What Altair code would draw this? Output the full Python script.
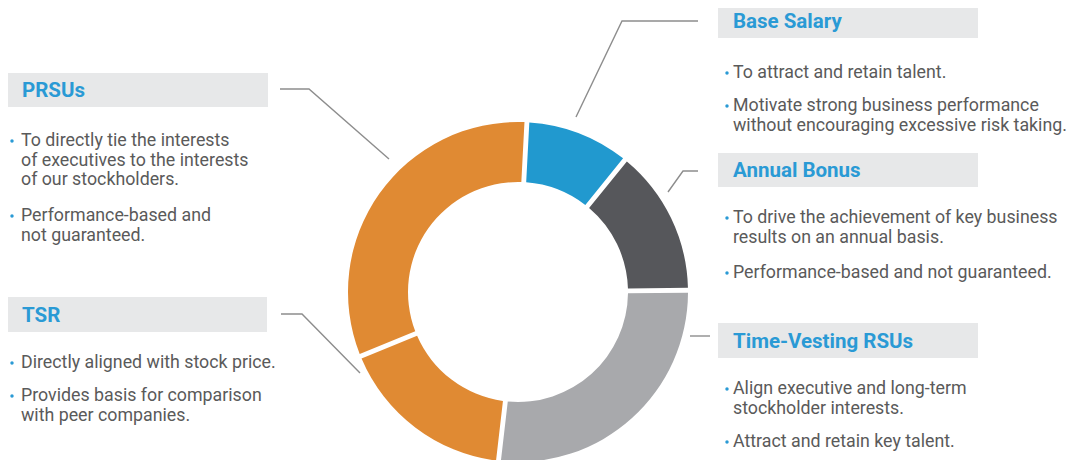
import math
import altair as alt
import pandas as pd

# ---- data ----
categories = ["Base Salary", "Annual Bonus", "Time-Vesting RSUs", "TSR", "PRSUs"]
shares = [10, 14, 27, 17, 32]
slice_colors = ["#2199cf", "#56575b", "#a8a9ac", "#e08a33", "#e08a33"]

titles = ["Base Salary", "Annual Bonus", "Time-Vesting RSUs", "PRSUs", "TSR"]
bullet_lines = [
    ["To attract and retain talent.", "Motivate strong business performance",
     "without encouraging excessive risk taking."],
    ["To drive the achievement of key business", "results on an annual basis.",
     "Performance-based and not guaranteed."],
    ["Align executive and long-term", "stockholder interests.",
     "Attract and retain key talent."],
    ["To directly tie the interests", "of executives to the interests",
     "of our stockholders.", "Performance-based and", "not guaranteed."],
    ["Directly aligned with stock price.", "Provides basis for comparison",
     "with peer companies."],
]
bullet_flags = [
    [1, 1, 0],
    [1, 0, 1],
    [1, 0, 1],
    [1, 0, 0, 1, 0],
    [1, 1, 0],
]

# ---- layout (page pixels) ----
OFF = 8
W, H = 1058, 452
box_x = [(718, 978), (718, 978), (718, 978), (8, 268), (7, 267)]
box_y = [(4, 38), (153, 187), (323, 358), (73, 107), (297, 332)]
title_x = [733, 733, 733, 22, 22]
text_x = [733, 733, 733, 21, 21]
dot_x = [727, 727, 727, 12, 12]
line_y = [
    [73, 106, 126],
    [218, 238, 273],
    [389, 409, 442],
    [141, 161, 180, 216, 236],
    [363, 396, 416],
]
leaders = [
    [(576, 117), (622, 21), (698, 21)],
    [(668, 192), (683, 171), (698, 171)],
    [(690, 336), (710, 336)],
    [(280, 89), (309, 89), (389, 159)],
    [(281, 314), (302, 314), (360, 373)],
]
cx, cy = 518, 292
start = math.radians(3)

xs = alt.Scale(domain=[0, W], range=[0, W])
ys = alt.Scale(domain=[0, H], range=[0, H])

# donut
donut_df = pd.DataFrame({"cat": categories, "share": shares, "ord": list(range(len(categories)))})
donut = alt.Chart(donut_df).mark_arc(
    outerRadius=170, innerRadius=110, padAngle=0.024
).encode(
    theta=alt.Theta("share:Q", stack=True,
                    scale=alt.Scale(range=[start, start + 2 * math.pi])),
    order=alt.Order("ord:Q"),
    color=alt.Color("cat:N", scale=alt.Scale(domain=categories, range=slice_colors), legend=None),
    x=alt.value(cx - OFF),
    y=alt.value(cy - OFF),
)

# boxes
box_df = pd.DataFrame({
    "x": [b[0] - OFF for b in box_x], "x2": [b[1] - OFF for b in box_x],
    "y": [b[0] - OFF for b in box_y], "y2": [b[1] - OFF for b in box_y],
})
boxes = alt.Chart(box_df).mark_rect(color="#e7e8e9").encode(
    x=alt.X("x:Q", scale=xs, axis=None), x2="x2:Q",
    y=alt.Y("y:Q", scale=ys, axis=None), y2="y2:Q",
)

title_df = pd.DataFrame({
    "t": titles,
    "x": [v - OFF for v in title_x],
    "y": [(b[0] + b[1]) / 2 + 1 - OFF for b in box_y],
})
title_marks = alt.Chart(title_df).mark_text(
    align="left", baseline="middle", font="Roboto", fontSize=20.5, fontWeight="bold", color="#2a9ad5"
).encode(x=alt.X("x:Q", scale=xs, axis=None), y=alt.Y("y:Q", scale=ys, axis=None), text="t:N")

rows = []
dots = []
for i, lines in enumerate(bullet_lines):
    for j, ln in enumerate(lines):
        rows.append({"t": ln, "x": text_x[i] - OFF, "y": line_y[i][j] - OFF})
        if bullet_flags[i][j]:
            dots.append({"x": dot_x[i] - OFF, "y": line_y[i][j] - OFF})
text_df = pd.DataFrame(rows)
dot_df = pd.DataFrame(dots)

body = alt.Chart(text_df).mark_text(
    align="left", baseline="middle", font="Roboto", fontSize=17.8, color="#5a5a5a"
).encode(x=alt.X("x:Q", scale=xs, axis=None), y=alt.Y("y:Q", scale=ys, axis=None), text="t:N")

bul = alt.Chart(dot_df).mark_circle(size=12, color="#2a9ad5", opacity=1).encode(
    x=alt.X("x:Q", scale=xs, axis=None), y=alt.Y("y:Q", scale=ys, axis=None)
)

lrows = []
for i, pts in enumerate(leaders):
    for k, (px, py) in enumerate(pts):
        lrows.append({"id": i, "k": k, "x": px - OFF, "y": py - OFF})
lead_df = pd.DataFrame(lrows)
lead = alt.Chart(lead_df).mark_line(color="#8d8d8d", strokeWidth=1.4).encode(
    x=alt.X("x:Q", scale=xs, axis=None), y=alt.Y("y:Q", scale=ys, axis=None),
    detail="id:N", order="k:Q",
)

chart = alt.layer(boxes, lead, donut, title_marks, body, bul).properties(
    width=W, height=H, padding=0, background="white",
    autosize=alt.AutoSizeParams(type="none"),
).configure_view(strokeWidth=0)

chart.save("out.html", embed_options={"renderer": "svg", "actions": False})
